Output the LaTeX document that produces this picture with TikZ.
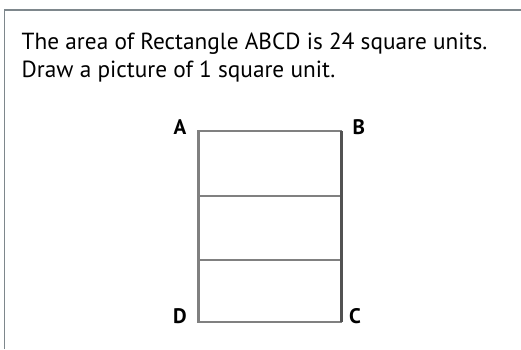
\documentclass[tikz,border=0pt]{standalone}
\usepackage{fontspec}
\setmainfont{PT Sans}
\begin{document}
\begin{tikzpicture}[x=1pt,y=-1pt,
  frameline/.style={draw=black!55!cyan!25!gray, line width=1.3pt},
  gridline/.style={draw=black!50, line width=2.2pt},
  edgeline/.style={draw=black!68, line width=3pt},
  qtext/.style={anchor=base west, inner sep=0pt, font=\fontsize{23.3}{27}\selectfont},
  ptlabel/.style={anchor=base west, inner sep=0pt, font=\fontsize{21}{23}\selectfont\bfseries}]
\useasboundingbox (0,0) rectangle (521,349);
% frame
\coordinate (fl) at (4.5,349);
\coordinate (ftl) at (4.5,10);
\coordinate (fr) at (521,10);
\draw[frameline] (fl) -- (ftl) -- (fr);
% text
\node[qtext] (t1) at (21.5,49) {The area of Rectangle ABCD is 24 square units.};
\node[qtext] (t2) at (21.5,77.5) {Draw a picture of 1 square unit.};
% rectangle
\coordinate (A) at (198.5,131);
\coordinate (B) at (341.5,131);
\coordinate (C) at (341.5,322);
\coordinate (D) at (198.5,322);
\coordinate (m1l) at (198.5,196);
\coordinate (m1r) at (341.5,196);
\coordinate (m2l) at (198.5,260);
\coordinate (m2r) at (341.5,260);
\draw[gridline, line cap=square] (B) -- (A) -- (D) -- (C);
\draw[gridline] (m1l) -- (m1r);
\draw[gridline] (m2l) -- (m2r);
\draw[edgeline, line cap=square] (B) -- (C);
% labels
\node[ptlabel] (la) at (173.5,134) {A};
\node[ptlabel] (lb) at (352.5,134) {B};
\node[ptlabel] (lc) at (349,323) {C};
\node[ptlabel] (ld) at (173,323) {D};
\end{tikzpicture}
\end{document}
